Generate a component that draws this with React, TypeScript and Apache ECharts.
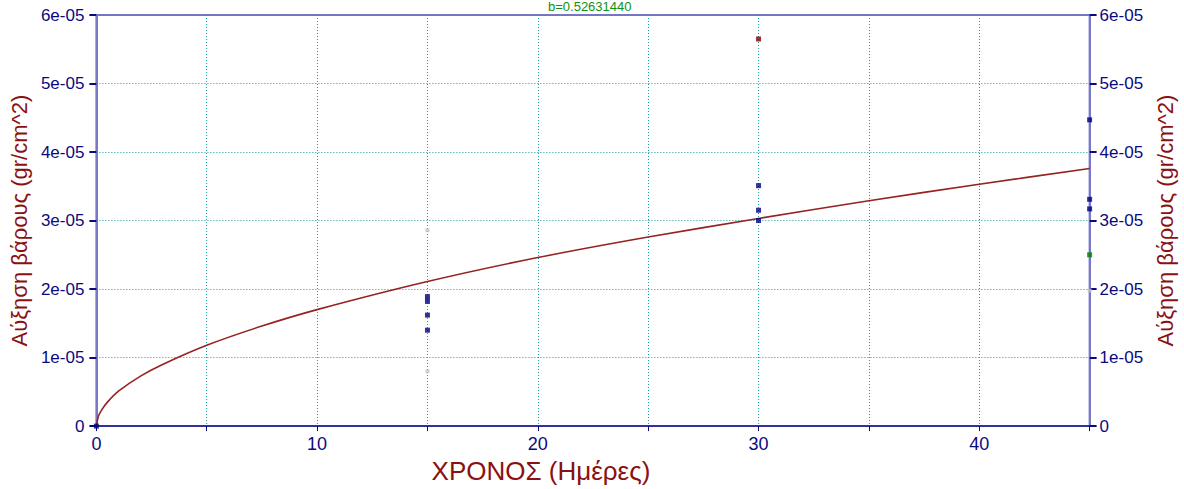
import React, { useEffect, useRef } from "react";
import * as echarts from "echarts";

const xTicks = [0, 5, 10, 15, 20, 25, 30, 35, 40, 45];
const yTicks = [0, 1e-5, 2e-5, 3e-5, 4e-5, 5e-5, 6e-5];

const fitLabel = "b=0.52631440";
const xName = "ΧΡΟΝΟΣ (Ημέρες)";
const yName = "Αύξηση βάρους (gr/cm^2)";

// Curve
const curveX = [0, 0.1, 0.25, 0.5, 1, 2, 3, 5, 7.5, 10, 15, 20, 25, 30, 35, 40, 45];
const curveY = [0, 0.15e-5, 0.24e-5, 0.35e-5, 0.51e-5, 0.73e-5, 0.9e-5, 1.18e-5, 1.46e-5, 1.7e-5, 2.11e-5, 2.46e-5, 2.76e-5, 3.03e-5, 3.29e-5, 3.53e-5, 3.76e-5];

const blueX = [0, 15, 15, 15, 15, 30, 30, 30, 45, 45, 45];
const blueY = [0, 1.89e-5, 1.82e-5, 1.62e-5, 1.4e-5, 3.51e-5, 3.15e-5, 3.0e-5, 4.47e-5, 3.31e-5, 3.17e-5];
const grayX = [15, 15, 45];
const grayY = [2.86e-5, 0.8e-5, 1.98e-5];
const redX = [30];
const redY = [5.65e-5];
const greenX = [45];
const greenY = [2.5e-5];

const zip = (xs: number[], ys: number[]) => xs.map((x, i) => [x, ys[i]]);

const navy = "#0a0a80";
const darkRed = "#8b1010";
const font = "'Liberation Sans', Arial, sans-serif";

const yLabel = (v: number) => (Math.abs(v) < 1e-12 ? "0" : `${Math.round(v * 1e5)}e-05`);

export default function App() {
  const ref = useRef<HTMLDivElement>(null);
  useEffect(() => {
    if (!ref.current) return;
    const chart = echarts.init(ref.current, undefined, { renderer: "svg" });
    const yAxisCommon = {
      type: "value" as const,
      min: yTicks[0],
      max: yTicks[yTicks.length - 1],
      interval: 1e-5,
      name: yName,
      nameLocation: "middle" as const,
      nameRotate: 90,
      nameTextStyle: { color: darkRed, fontSize: 22, fontFamily: font },
      axisLine: { show: true, lineStyle: { color: "#7878c8", width: 2 } },
      axisTick: { show: true, length: 7, lineStyle: { color: navy, width: 2 } },
    };
    chart.setOption({
      animation: false,
      backgroundColor: "#ffffff",
      grid: {
        left: 96,
        right: 88,
        top: 15,
        bottom: 62,
        show: true,
        borderColor: "#7878c8",
        borderWidth: 2,
        containLabel: false,
      },
      graphic: [
        {
          type: "text",
          left: 548,
          top: 0,
          style: { text: fitLabel, fill: "#109010", fontSize: 13, fontFamily: font },
        },
      ],
      xAxis: {
        type: "value",
        min: xTicks[0],
        max: xTicks[xTicks.length - 1],
        interval: 5,
        name: xName,
        nameLocation: "middle",
        nameGap: 30,
        nameTextStyle: {
          color: darkRed,
          fontSize: 26,
          fontFamily: font,
          padding: [0, 104, 0, 0],
        },
        axisLine: { show: true, onZero: false, lineStyle: { color: "#3030a0", width: 2 } },
        axisTick: { show: true, length: 5, lineStyle: { color: navy, width: 1 } },
        axisLabel: {
          color: navy,
          fontSize: 18,
          fontFamily: font,
          margin: 9,
          formatter: (v: number) => (v % 10 === 0 ? String(v) : ""),
        },
        splitLine: { show: true, lineStyle: { color: "#1a9a9a", type: [1, 2], width: 1 } },
      },
      yAxis: [
        {
          ...yAxisCommon,
          position: "left",
          nameGap: 64,
          axisLabel: { color: navy, fontSize: 17, fontFamily: font, formatter: yLabel, margin: 12 },
          splitLine: { show: true, lineStyle: { color: "#1a9a9a", type: [1, 2], width: 1 } },
        },
        {
          ...yAxisCommon,
          position: "right",
          nameGap: 62,
          axisLabel: { color: navy, fontSize: 17, fontFamily: font, formatter: yLabel, margin: 10 },
          splitLine: { show: false },
        },
      ],
      series: [
        {
          type: "line",
          data: zip(curveX, curveY),
          smooth: 0.3,
          showSymbol: false,
          lineStyle: { color: "#962222", width: 1.6 },
          z: 2,
          clip: false,
        },
        {
          type: "scatter",
          data: zip(grayX, grayY),
          symbol: "rect",
          symbolSize: 4,
          itemStyle: { color: "#c4c4c4" },
          clip: false,
          z: 3,
        },
        {
          type: "scatter",
          data: zip(blueX, blueY),
          symbol: "rect",
          symbolSize: 5,
          itemStyle: { color: "#000080" },
          clip: false,
          z: 4,
        },
        {
          type: "scatter",
          data: zip(redX, redY),
          symbol: "rect",
          symbolSize: 5,
          itemStyle: { color: "#800000" },
          clip: false,
          z: 4,
        },
        {
          type: "scatter",
          data: zip(greenX, greenY),
          symbol: "rect",
          symbolSize: 5,
          itemStyle: { color: "#008000" },
          clip: false,
          z: 4,
        },
      ],
    });
    return () => chart.dispose();
  }, []);
  return (
    <div
      ref={ref}
      style={{ position: "fixed", left: 0, top: 0, width: 1184, height: 489 }}
    />
  );
}
